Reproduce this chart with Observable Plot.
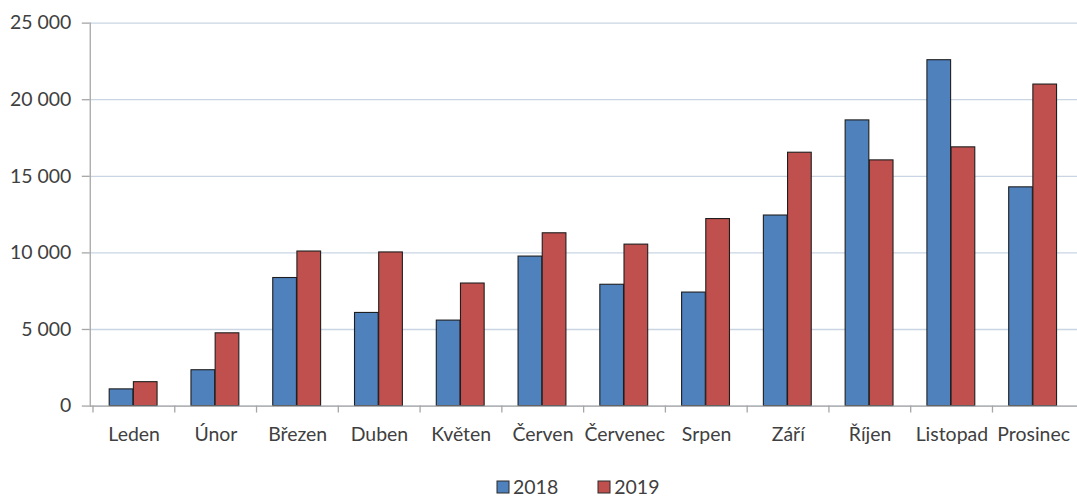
<!DOCTYPE html>
<html>
<head>
<meta charset="utf-8">
<script src="https://cdn.jsdelivr.net/npm/d3@7"></script>
<script src="https://cdn.jsdelivr.net/npm/@observablehq/plot@0.6"></script>
<style>
  html, body { margin: 0; padding: 0; background: #fff; overflow: hidden; }
  #chart svg { display: block; }
  .lg-swatches { font-family: Lato, sans-serif !important; font-size: 19.5px !important; color: #404040;
    line-height: 16px; margin: 2px 0 0 497px !important; min-height: 16px !important; height: 16px; display: flex; align-items: center; }
  .lg-swatch { margin-right: 40px !important; display: inline-flex; align-items: center; line-height: 16px; }
  .lg-swatch > svg { margin-right: 4px !important; overflow: visible; }
  .lg-swatch rect { stroke: #2a2a2a; stroke-width: 1; }
</style>
</head>
<body>
<div id="chart"></div>
<script>
const months = ["Leden", "Únor", "Březen", "Duben", "Květen", "Červen", "Červenec", "Srpen", "Září", "Říjen", "Listopad", "Prosinec"];
const years = ["2018", "2019"];
const values2018 = [1090, 2340, 8360, 6080, 5580, 9760, 7920, 7410, 12440, 18650, 22580, 14280];
const values2019 = [1560, 4750, 10090, 10030, 8000, 11280, 10540, 12210, 16540, 16040, 16890, 20990];
const yTicks = [0, 5000, 10000, 15000, 20000, 25000];
const colors = ["#4F81BD", "#C0504D"];

const data = [
  ...months.map((m, i) => ({month: m, year: "2018", value: values2018[i]})),
  ...months.map((m, i) => ({month: m, year: "2019", value: values2019[i]}))
];

const W = 1080, ML = 90, MR = 0;
const step = (W - ML - MR) / months.length;
const axisGrey = "#a6a6a6";
const textColor = "#404040";
const fmt = d => d3.format(",")(d).replace(/,/g, "\u00a0");

const plot = Plot.plot({
  width: W,
  height: 478,
  marginLeft: ML,
  marginRight: MR,
  marginTop: 22.7,
  marginBottom: 71.3,
  style: {fontFamily: "Lato, sans-serif", fontSize: "19.5px", color: textColor, background: "#fff"},
  x: {domain: months, padding: 0, axis: null, label: null},
  y: {domain: [0, 25000], axis: null, label: null},
  color: {domain: years, range: colors},
  marks: [
    Plot.gridY(yTicks, {stroke: "#c9d5e3", strokeOpacity: 1, strokeWidth: 1.3}),
    Plot.barY(data.filter(d => d.year === "2018"), {x: "month", y: "value", fill: "year", stroke: "#1e1e1e", strokeWidth: 1.1, insetLeft: 16.5, insetRight: step - 40.75}),
    Plot.barY(data.filter(d => d.year === "2019"), {x: "month", y: "value", fill: "year", stroke: "#1e1e1e", strokeWidth: 1.1, insetLeft: 40.75, insetRight: step - 65}),
    Plot.ruleY([0], {stroke: axisGrey, strokeWidth: 1.3}),
    Plot.frame({anchor: "left", stroke: axisGrey, strokeWidth: 1.3}),
    Plot.axisY({ticks: yTicks, tickFormat: fmt, tickSize: 8, tickPadding: 11, stroke: axisGrey, fill: textColor, strokeWidth: 1.3, label: null}),
    Plot.axisX({tickSize: 0, tickPadding: 21, fill: textColor, label: null}),
    Plot.axisX({tickSize: 7, tickFormat: () => "", dx: -step / 2, stroke: axisGrey, strokeWidth: 1.3, label: null})
  ]
});

const legend = plot.legend("color", {swatchSize: 12, className: "lg"});
const root = document.getElementById("chart");
root.appendChild(plot);
root.appendChild(legend);
</script>
</body>
</html>
